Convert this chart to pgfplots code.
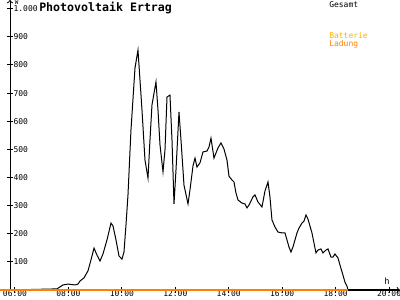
\documentclass[border=0pt]{standalone}
\usepackage{pgfplots}
\pgfplotsset{compat=1.18}
\usepackage{fontspec}
\setmainfont{DejaVu Sans Mono}
\definecolor{batt}{RGB}{255,176,0}
\definecolor{lad}{RGB}{255,128,0}
\begin{document}
\begin{tikzpicture}
\begin{axis}[
  at={(7.5pt,7.5pt)}, anchor=south west,
  scale only axis, width=292.5pt, height=217.5pt,
  xmin=5.813, xmax=20.41, ymin=0, ymax=1031,
  axis x line=bottom, axis y line=left,
  axis line style={line width=0.75pt,->},
  xtick={6,8,...,20},
  xticklabels={06:00,08:00,10:00,12:00,14:00,16:00,18:00,20:00},
  ytick={100,200,...,1000},
  yticklabels={100,200,300,400,500,600,700,800,900,1.000},
  tick align=center, major tick length=4pt,
  tick style={black, line width=0.75pt},
  ticklabel style={font=\fontsize{6}{7}\selectfont, inner sep=0pt},
  yticklabel style={anchor=west, xshift=4.5pt},
  xticklabel style={anchor=north, yshift=1.6pt},
  clip=false,
]
\addplot[black, line width=0.75pt] table {
x y
5.813 0
7.572 4
7.796 18
7.984 21
8.245 18
8.358 21
8.433 32
8.582 43
8.732 68
8.844 107
8.957 149
9.069 124
9.181 103
9.293 128
9.443 178
9.593 238
9.668 228
9.780 178
9.892 121
10.004 110
10.079 135
10.154 231
10.229 338
10.341 569
10.491 789
10.603 853
10.678 747
10.753 640
10.865 462
10.978 398
11.052 533
11.127 658
11.277 740
11.352 640
11.427 516
11.539 420
11.614 498
11.689 686
11.801 693
11.876 533
11.951 306
12.026 427
12.138 633
12.213 533
12.325 373
12.475 306
12.550 356
12.662 441
12.737 469
12.812 437
12.924 452
13.036 491
13.186 494
13.260 508
13.335 540
13.448 469
13.597 505
13.710 523
13.822 501
13.934 462
14.009 405
14.121 391
14.196 384
14.271 345
14.346 320
14.496 309
14.608 306
14.683 292
14.757 302
14.907 331
14.982 338
15.094 313
15.244 295
15.356 352
15.469 384
15.543 331
15.618 249
15.731 224
15.843 206
15.993 203
16.105 203
16.180 178
16.254 153
16.329 135
16.404 153
16.554 203
16.629 220
16.741 238
16.816 245
16.891 267
16.966 252
17.115 203
17.190 167
17.265 132
17.340 142
17.452 146
17.527 132
17.640 142
17.714 146
17.827 117
17.901 117
17.976 128
18.088 114
18.163 89
18.275 53
18.350 28
18.425 14
18.463 0
};
\addplot[lad, line width=1.1pt] coordinates {(5.44,0) (18.463,0)};
\end{axis}
\begin{scope}[x=0.75pt,y=0.75pt]
\node[anchor=west, inner sep=0pt, font=\bfseries\fontsize{8.7}{9}\selectfont] at (39,292.5) {Photovoltaik Ertrag};
\node[anchor=west, inner sep=0pt, font=\fontsize{6}{7}\selectfont] at (329,295.5) {Gesamt};
\node[anchor=west, inner sep=0pt, text=batt, font=\fontsize{6}{7}\selectfont] at (329,264) {Batterie};
\node[anchor=west, inner sep=0pt, text=lad, font=\fontsize{6}{7}\selectfont] at (329,255.5) {Ladung};
\node[anchor=west, inner sep=0pt, font=\fontsize{4.5}{5}\selectfont] at (14.5,297.6) {W};
\node[inner sep=0pt, font=\fontsize{6.5}{7}\selectfont] at (387,19) {h};
\end{scope}
\pgfresetboundingbox
\path[use as bounding box] (0,0) rectangle (300pt,225pt);
\end{tikzpicture}
\end{document}
